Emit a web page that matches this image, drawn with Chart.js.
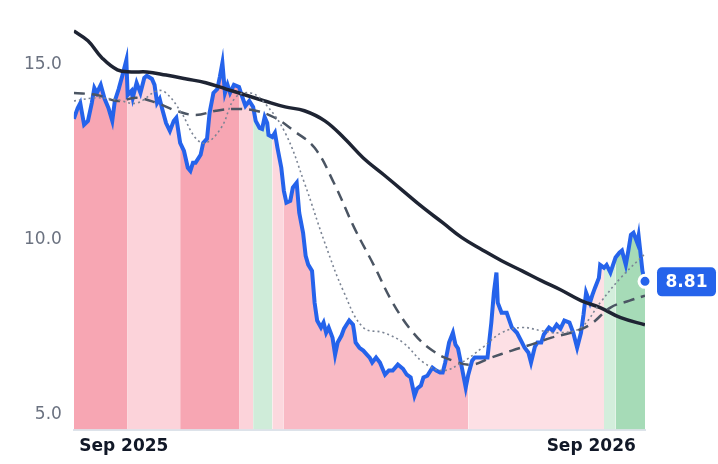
<!DOCTYPE html>
<html><head><meta charset="utf-8">
<script src="https://cdn.jsdelivr.net/npm/chart.js@4"></script>
<style>html,body{margin:0;padding:0;background:#fff}#w{width:718px;height:464px}</style>
</head><body><div id="w"><canvas id="c"></canvas></div>
<script>
const priceDays=[0,3,5,8,11,14,16,18,21,24,27,30,32,35,38,41,42,45,46,49,52,55,57,61,63,65,67,69,72,75,78,80,83,86,89,91,93,95,99,101,104,106,109,112,114,116,118,120,122,125,129,131,134,137,140,142,145,147,149,151,152,155,157,159,162,164,166,169,171,174,176,179,181,183,186,188,190,193,195,197,199,202,204,206,209,211,215,218,219,220,223,226,229,231,233,236,239,243,246,249,253,257,260,263,266,268,271,273,276,280,283,286,288,290,293,296,298,300,303,306,308,311,313,316,320,323,326,328,330,331,334,338,342,346,350,352,355,357,360,362,365,367,371,374,377,380,383,387,390,393,396,398,400,403,405,407,410,411,414,416,419,423,426,428,431,433,435,437,440,441,444,446];
const priceVals=[13.46,13.77,13.91,13.29,13.40,13.91,14.34,14.20,14.43,14.03,13.77,13.40,13.97,14.31,14.71,15.14,14.14,14.26,14.06,14.49,14.20,14.63,14.69,14.60,14.43,13.91,14.03,13.74,13.34,13.11,13.40,13.49,12.77,12.54,12.06,11.97,12.20,12.20,12.43,12.77,12.89,13.63,14.20,14.31,14.66,15.06,14.20,14.43,14.20,14.43,14.37,14.14,13.83,13.97,13.80,13.40,13.20,13.17,13.51,13.34,13.00,12.94,13.06,12.63,12.06,11.40,11.06,11.11,11.49,11.63,10.77,10.20,9.54,9.29,9.11,8.20,7.69,7.49,7.63,7.34,7.49,7.20,6.71,7.06,7.26,7.46,7.69,7.57,7.34,7.06,6.91,6.83,6.71,6.63,6.49,6.63,6.49,6.14,6.26,6.26,6.43,6.31,6.14,6.06,5.54,5.74,5.83,6.06,6.11,6.34,6.26,6.20,6.20,6.49,7.06,7.34,7.00,6.89,6.34,5.77,6.14,6.54,6.63,6.63,6.63,6.63,7.63,8.49,9.06,8.20,7.91,7.91,7.49,7.34,7.06,6.91,6.77,6.49,6.94,7.06,7.06,7.29,7.49,7.40,7.57,7.46,7.69,7.63,7.34,6.91,7.34,7.86,8.49,8.20,8.43,8.63,8.91,9.28,9.20,9.28,9.06,9.49,9.63,9.69,9.28,9.69,10.14,10.20,9.91,10.11,9.11,8.81];
const longDays=[0,11,22,34,45,57,72,88,103,119,134,149,165,180,196,211,226,242,257,273,288,303,319,334,350,365,380,396,411,427,446];
const longVals=[15.97,15.69,15.2,14.86,14.8,14.8,14.71,14.6,14.49,14.31,14.14,13.97,13.8,13.69,13.4,12.91,12.34,11.86,11.4,10.91,10.49,10.06,9.71,9.4,9.11,8.83,8.57,8.26,8.06,7.77,7.57];
const midDays=[0,18,34,49,65,80,95,111,126,142,157,172,188,203,219,234,249,265,280,296,311,326,342,357,373,388,403,419,434,446];
const midVals=[14.2,14.14,13.97,14.06,13.91,13.69,13.57,13.69,13.74,13.69,13.49,13.11,12.63,11.63,10.34,9.29,8.2,7.34,6.83,6.54,6.43,6.63,6.83,7.0,7.2,7.34,7.57,8.06,8.26,8.4];
const shortDays=[0,18,34,49,65,72,84,95,103,115,126,138,149,165,180,196,211,226,242,257,273,288,303,319,334,350,365,380,396,411,427,446];
const shortVals=[13.97,14.06,14.0,13.91,14.26,14.2,13.63,12.91,12.77,13.2,14.06,14.2,13.91,13.06,11.63,9.91,8.49,7.49,7.34,7.06,6.49,6.26,6.49,6.91,7.34,7.49,7.4,7.34,7.49,8.2,8.91,9.6];
const bandStarts=[0,42,82,128,138,155,163,308,412,420];
const bandColors=['#f7a6b3','#fcd3da','#f7a6b3','#fcd3da','#cfecd9','#fcd8de','#f9bac5','#fde0e5','#d3eedc','#a6dbb7'];
const xTickDays=[39,404];
const xTickLabels=['Sep 2025','Sep 2026'];
const yTicks=[5,10,15];
const lastLabel='8.81';

const pts=(d,v)=>d.map((x,i)=>({x,y:v[i]}));
function bandColor(day){let c=bandColors[0];bandStarts.forEach((s,i)=>{if(day>=s)c=bandColors[i];});return c;}

const lastLabelPlugin={id:'lastLabel',afterDatasetsDraw(ch){
  const meta=ch.getDatasetMeta(4);const p=meta.data[meta.data.length-1];const ctx=ch.ctx;
  ctx.save();
  ctx.beginPath();ctx.arc(p.x,p.y,6,0,Math.PI*2);ctx.fillStyle='#2563eb';ctx.fill();ctx.lineWidth=3;ctx.strokeStyle='#fff';ctx.stroke();
  const bx=p.x+12,by=p.y-14,bw=59,bh=29;
  ctx.fillStyle='#2563eb';ctx.beginPath();ctx.roundRect(bx,by,bw,bh,5);ctx.fill();
  ctx.fillStyle='#fff';ctx.font='bold 17px "DejaVu Sans"';ctx.textAlign='center';ctx.textBaseline='middle';
  ctx.fillText(lastLabel,bx+bw/2,by+bh/2+1);ctx.restore();}};

new Chart(document.getElementById('c'),{
  type:'line',
  data:{datasets:[
    {data:pts(priceDays,priceVals),fill:'start',borderWidth:0,pointRadius:0,tension:0,
      segment:{backgroundColor:c=>bandColor(c.p0.parsed.x)},backgroundColor:'#f7a6b3',order:5},
    {data:pts(shortDays,shortVals),borderColor:'#7b8494',borderWidth:1.6,borderDash:[2,3],pointRadius:0,tension:0.4,fill:false},
    {data:pts(midDays,midVals),borderColor:'#4b5563',borderWidth:2.5,borderDash:[11,7],pointRadius:0,tension:0.4,fill:false},
    {data:pts(longDays,longVals),borderColor:'#1e2433',borderWidth:3.5,pointRadius:0,tension:0.4,fill:false},
    {data:pts(priceDays,priceVals),borderColor:'#2563eb',borderWidth:4,pointRadius:0,tension:0,fill:false}
  ]},
  options:{responsive:true,maintainAspectRatio:false,animation:false,
    layout:{padding:{left:12,right:73,top:23,bottom:0}},
    plugins:{legend:{display:false},tooltip:{enabled:false}},
    scales:{
      x:{type:'linear',min:0,max:446,grid:{display:false,drawTicks:false},border:{color:'#dde3ea',width:2},
        afterBuildTicks:a=>{a.ticks=xTickDays.map(v=>({value:v}));},
        ticks:{callback:v=>xTickLabels[xTickDays.indexOf(v)],color:'#111827',font:{family:'DejaVu Sans',size:17,weight:'bold'},maxRotation:0,padding:7}},
      y:{min:4.57,max:16.2,grid:{display:false,drawTicks:false},border:{display:false},
        afterBuildTicks:a=>{a.ticks=yTicks.map(v=>({value:v}));},
        ticks:{callback:v=>v.toFixed(1),color:'#6b7280',font:{family:'DejaVu Sans',size:17},padding:12}}
    }},
  plugins:[lastLabelPlugin]
});
</script></body></html>
